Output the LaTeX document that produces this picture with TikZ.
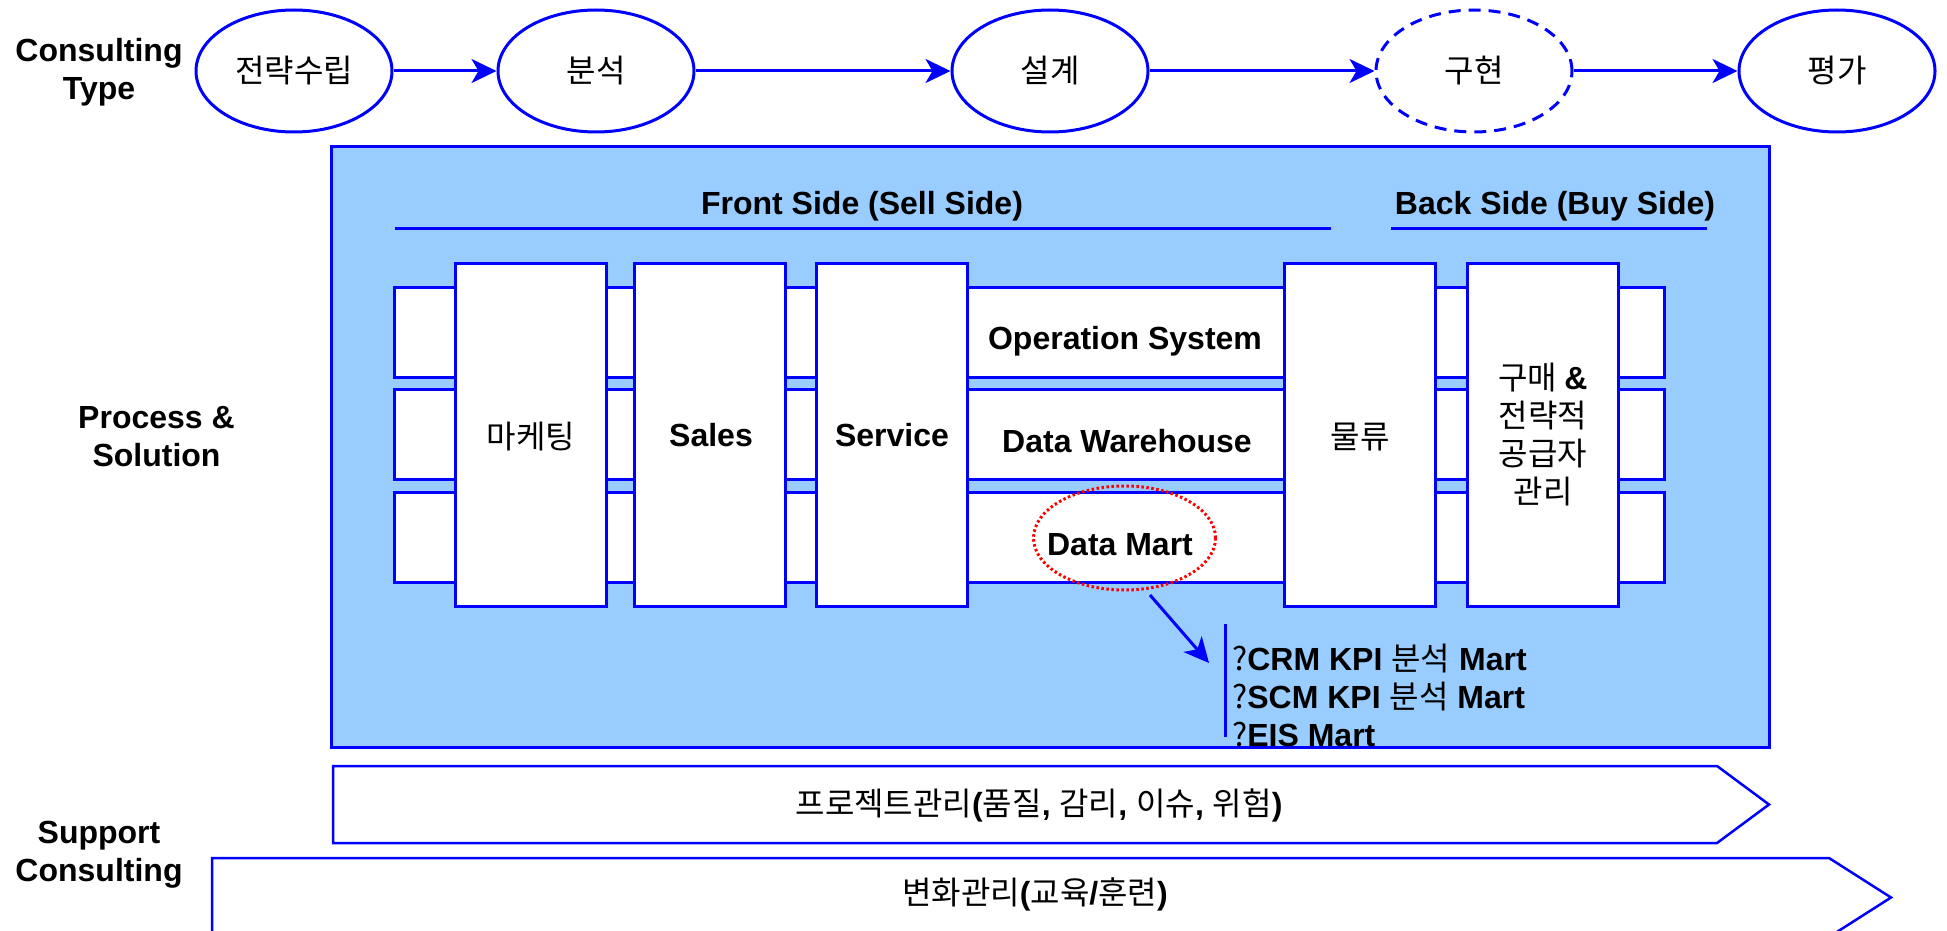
\documentclass[tikz,border=0pt]{standalone}
\usepackage{fontspec}
\setmainfont{Liberation Sans}
\newfontfamily\kr{Noto Sans CJK KR}
\usetikzlibrary{shapes.geometric,arrows.meta}
\definecolor{lineblue}{RGB}{0,0,255}
\definecolor{boxfill}{RGB}{153,204,255}
\definecolor{dotred}{RGB}{255,0,0}
\begin{document}
\begin{tikzpicture}[x=1pt,y=-1pt,
  ell/.style={ellipse, draw=lineblue, line width=3pt, fill=white, minimum width=196pt, minimum height=122pt, inner sep=0pt, font=\kr\fontsize{32}{38}\selectfont},
  flow/.style={draw=lineblue, line width=3pt, -{Stealth[length=25pt,width=24pt,inset=7pt]}},
  wbox/.style={draw=lineblue, line width=3pt, fill=white, inner sep=0pt},
  rowbox/.style={wbox, minimum width=1270pt, minimum height=90pt},
  colbox/.style={wbox, minimum width=151pt, minimum height=343pt},
  lbl/.style={font=\bfseries\fontsize{32}{38}\selectfont, align=center, inner sep=0pt},
  btxt/.style={font=\bfseries\fontsize{32}{38}\selectfont, inner sep=0pt, anchor=base},
  ktxt/.style={font=\kr\fontsize{32}{38}\selectfont, inner sep=0pt, align=center},
  ltxt/.style={font=\fontsize{32}{38}\selectfont, inner sep=0pt, anchor=base west},
  uline/.style={draw=lineblue, line width=3pt},
  pent/.style={draw=lineblue, line width=2.5pt, fill=white, line join=miter}
]
\useasboundingbox (0,0) rectangle (1947,931);

% Top row
\node[lbl] (ct) at (99,72) {Consulting\\Type};
\node[ell] (e1) at (294,71) {전략수립};
\node[ell] (e2) at (596,71) {분석};
\node[ell] (e3) at (1050,71) {설계};
\node[ell, dash pattern=on 12pt off 8pt] (e4) at (1474,71) {구현};
\node[ell] (e5) at (1837,71) {평가};
\draw[flow] (e1) -- (e2);
\draw[flow] (e2) -- (e3);
\draw[flow] (e3) -- (e4);
\draw[flow] (e4) -- (e5);

% Main box
\node[draw=lineblue, line width=3pt, fill=boxfill, minimum width=1437.5pt, minimum height=601pt, inner sep=0pt] (main) at (1050.25,447) {};
\node[lbl] (ps) at (156.5,437) {Process \&\\Solution};

\node[btxt] (front) at (862,214) {Front Side (Sell Side)};
\coordinate (fl1) at (395,228.5);
\coordinate (fl2) at (1331,228.5);
\draw[uline] (fl1) -- (fl2);
\node[btxt] (back) at (1555,214) {Back Side (Buy Side)};
\coordinate (bl1) at (1391,228.5);
\coordinate (bl2) at (1707,228.5);
\draw[uline] (bl1) -- (bl2);

% Rows
\node[rowbox] (r1) at (1029,332.25) {};
\node[rowbox] (r2) at (1029,434.5) {};
\node[rowbox] (r3) at (1029,537.75) {};

% Columns
\node[colbox] (c1) at (531,434.5) {};
\node[colbox] (c2) at (710,434.5) {};
\node[colbox] (c3) at (892,434.5) {};
\node[colbox] (c4) at (1360,434.5) {};
\node[colbox] (c5) at (1543,434.5) {};

\node[ktxt] (t1) at (531,437) {마케팅};
\node[btxt] (t2) at (711,446) {Sales};
\node[btxt] (t3) at (892,446) {Service};
\node[ktxt] (t4) at (1360,437) {물류};
\node[ktxt] (t5) at (1543,435) {구매 {\rmfamily\bfseries\&}\\전략적\\공급자\\관리};

\node[btxt] (os) at (1125,349) {Operation System};
\node[btxt] (dw) at (1127,452) {Data Warehouse};
\node[btxt] (dmt) at (1120,555) {Data Mart};

% Red dotted ellipse
\node[ellipse, draw=dotred, line width=3pt, dash pattern=on 2.5pt off 2.5pt, minimum width=182pt, minimum height=104pt, inner sep=0pt] (dm) at (1124.5,538) {};

% Arrow to list
\coordinate (da) at (1150,595);
\coordinate (db) at (1209,663);
\draw[flow] (da) -- (db);
\coordinate (vl1) at (1225,624);
\coordinate (vl2) at (1225,737);
\draw[uline] (vl1) -- (vl2);
\node[ltxt] (l1) at (1232,670) {{\kr ?}\textbf{CRM KPI} {\kr 분석} \textbf{Mart}};
\node[ltxt] (l2) at (1232,708) {{\kr ?}\textbf{SCM KPI} {\kr 분석} \textbf{Mart}};
\node[ltxt] (l3) at (1232,746) {{\kr ?}\textbf{EIS Mart}};

% Support consulting
\draw[pent] (333,766) -- (1717,766) -- (1769,804.5) -- (1717,843) -- (333,843) -- cycle;
\node[ktxt] (pm) at (1039,805) {프로젝트관리{\rmfamily\bfseries(}품질{\rmfamily\bfseries, }감리{\rmfamily\bfseries, }이슈{\rmfamily\bfseries, }위험{\rmfamily\bfseries)}};
\draw[pent] (212,858) -- (1829,858) -- (1891,897.5) -- (1829,937) -- (212,937) -- cycle;
\node[ktxt] (cm) at (1035,894) {변화관리{\rmfamily\bfseries(}교육{\rmfamily\bfseries/}훈련{\rmfamily\bfseries)}};
\node[lbl] (sc) at (99,855) {Support\\Consulting};
\end{tikzpicture}
\end{document}
